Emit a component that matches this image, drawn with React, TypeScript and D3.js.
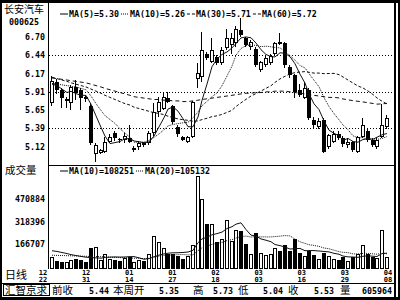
import React from "react";
import * as d3 from "d3";

// ---------- data ----------
const opens = [5.75,6.05,5.94,5.79,5.75,5.98,5.94,5.84,5.70,5.02,5.03,5.05,5.19,5.32,5.23,5.22,5.25,5.08,5.12,5.17,5.17,5.32,5.62,5.67,5.82,5.70,5.41,5.26,5.19,5.26,6.10,6.12,6.46,6.34,6.41,6.32,6.54,6.58,6.61,6.80,6.68,6.56,6.52,6.22,6.30,6.32,6.46,6.62,6.61,6.27,6.15,5.94,5.82,5.94,5.50,5.40,5.50,5.12,5.19,5.31,5.25,5.15,5.19,5.05,5.26,5.35,5.22,5.12,5.26,5.40];
const highs = [6.14,6.10,5.96,5.84,6.01,6.08,5.96,5.86,5.75,5.18,5.09,5.26,5.30,5.34,5.25,5.32,5.43,5.13,5.20,5.19,5.35,5.75,5.84,5.91,5.91,5.72,5.43,5.27,5.28,5.78,6.32,6.77,6.49,6.68,6.44,6.55,6.82,6.75,6.85,6.97,6.70,6.66,6.56,6.36,6.42,6.45,6.63,6.75,6.63,6.29,6.16,6.02,6.05,5.96,5.55,5.53,5.53,5.31,5.34,5.34,5.28,5.24,5.21,5.28,5.53,5.39,5.24,5.26,5.73,5.57];
const lows = [5.70,5.88,5.68,5.68,5.65,5.79,5.65,5.76,5.14,4.90,5.01,5.03,5.18,5.20,5.18,5.17,5.18,5.05,5.08,5.11,5.15,5.27,5.55,5.65,5.75,5.45,5.26,5.20,5.17,5.25,5.96,6.05,6.37,6.33,6.30,6.30,6.51,6.46,6.55,6.70,6.55,6.51,6.27,6.20,6.27,6.30,6.44,6.58,6.26,6.11,5.82,5.84,5.80,5.50,5.39,5.37,5.03,5.09,5.17,5.22,5.12,5.10,5.05,5.03,5.24,5.19,5.12,5.09,5.24,5.37];
const closes = [6.06,5.93,5.82,5.80,5.98,5.89,5.82,5.80,5.17,5.14,5.07,5.19,5.26,5.24,5.22,5.27,5.19,5.10,5.18,5.15,5.32,5.62,5.76,5.84,5.77,5.48,5.31,5.22,5.26,5.77,6.18,6.51,6.39,6.51,6.32,6.51,6.69,6.68,6.82,6.73,6.58,6.63,6.30,6.34,6.39,6.42,6.61,6.60,6.30,6.15,5.91,5.86,5.96,5.53,5.43,5.49,5.05,5.29,5.31,5.25,5.16,5.19,5.07,5.26,5.44,5.22,5.15,5.22,5.43,5.53];
const volumes = [80000,55000,50000,52000,65000,70000,60000,50000,140000,151000,60000,106000,70000,65000,55000,75000,85000,50000,60000,55000,106000,226000,182000,146000,100000,100000,90000,70000,88000,166000,621000,470000,300000,304000,180000,200000,328000,190000,260000,255000,170000,100000,240000,110000,95000,100000,140000,120000,165000,120000,200000,110000,90000,120000,95000,70000,110000,90000,70000,60000,80000,55000,80000,100000,166000,100000,80000,75000,266000,84000];

// moving-average values at the left edge (window not yet full)
const ma5Lead = [6.02,6.00,5.95,5.90];
const ma10Lead = [6.03,6.02,6.01,6.00,5.99,5.98,5.96,5.94,5.85];
const ma30Lead = [6.12,6.10,6.08,6.06,6.04,6.02,6.00,5.98,5.95,5.92,5.89,5.86,5.83,5.80,5.77,5.74,5.72,5.69,5.67,5.65,5.63,5.61,5.60,5.58,5.56,5.54,5.52,5.51,5.50];
const ma60Lead = [6.11,6.10,6.09,6.08,6.07,6.06,6.05,6.04,6.02,6.00,5.98,5.96,5.94,5.92,5.90,5.88,5.86,5.84,5.83,5.82,5.81,5.80,5.80,5.79,5.79,5.78,5.78,5.77,5.77,5.78,5.79,5.80,5.81,5.82,5.83,5.84,5.85,5.86,5.87,5.88,5.89,5.89,5.90,5.90,5.91,5.91,5.92,5.92,5.92,5.91,5.90,5.89,5.88,5.87,5.86,5.85,5.84,5.83,5.83];
const volMa10Lead = [125000,120000,113000,106000,99000,93000,87000,82000,79000];
const volMa20Lead = [95000,94000,93000,92000,91000,90000,89000,88000,87000,86000,85000,84000,82000,80000,79000,78000,77000,75000,74000];

const priceTicks = [6.70,6.44,6.17,5.91,5.65,5.39,5.12];
const priceGrid = [6.44,5.91,5.39];
const volTicks = [470884,318396,166707];
const dateMonths = ["12","12","01","01","02","03","03","03","04"];
const dateDays = ["22","31","14","27","18","03","16","29","08"];
const priceLegend = ["MA(5)=5.30","MA(10)=5.26","MA(30)=5.71","MA(60)=5.72"];
const volLegend = ["MA(10)=108251","MA(20)=105132"];
const stockName = "长安汽车";
const stockCode = "000625";
const footerLabels = ["前收","本周开","高","低","收","量"];
const footerValues = ["5.44","5.35","5.73","5.04","5.53","605964"];

// ---------- helpers ----------
function movingAverage(values: number[], n: number, lead: number[]): number[] {
  return values.map((_, i) =>
    i < n - 1 ? lead[i] : (d3.mean(values.slice(i - n + 1, i + 1)) as number)
  );
}

const MONO = "'DejaVu Sans Mono', monospace";
const CJK = "'Noto Sans CJK SC', sans-serif";
const FS = 8.3;
const CW = FS * 0.602;

export default function App() {
  const n = closes.length;
  const L = 48, R = 394, TOP = 3, MID = 165, BOT = 269;
  const x = d3.scaleBand<number>().domain(d3.range(n)).range([49.5, 389.5]);
  const cx = (i: number) => Math.round((x(i) as number) + x.bandwidth() / 2);
  const yP = d3.scaleLinear().domain([5.39, 6.44]).range([128, 55]);
  const yV = d3.scaleLinear().domain([0, 700000]).range([269.5, 164.3]);
  const snap = (v: number) => Math.round(v) + 0.5;

  const priceMAs = [
    { data: movingAverage(closes, 5, ma5Lead), dash: "" },
    { data: movingAverage(closes, 10, ma10Lead), dash: "1,1" },
    { data: movingAverage(closes, 30, ma30Lead), dash: "3,2" },
    { data: movingAverage(closes, 60, ma60Lead), dash: "4,3" },
  ];
  const volMAs = [
    { data: movingAverage(volumes, 10, volMa10Lead), dash: "" },
    { data: movingAverage(volumes, 20, volMa20Lead), dash: "1,1" },
  ];
  const pLine = d3.line<number>().x((_, i) => cx(i)).y((d) => yP(d));
  const vLine = d3.line<number>().x((_, i) => cx(i)).y((d) => yV(d));
  const dateX = d3.scalePoint<number>().domain(d3.range(dateDays.length)).range([43, 388]);

  const legendItems = (labels: string[], dashes: string[], y: number) => {
    let pos = 60;
    return labels.map((lab, k) => {
      const start = pos;
      pos = start + 9 + lab.length * CW + 2;
      return (
        <g key={k}>
          <line x1={start} x2={start + 8} y1={y - 3} y2={y - 3} stroke="#000" strokeDasharray={dashes[k]} />
          <text x={start + 9} y={y} fontFamily={MONO} fontWeight="bold" fontSize={FS}>{lab}</text>
        </g>
      );
    });
  };

  const footerLabelX = [52, 113, 193, 238, 288, 340];
  const footerValueX = [109, 179, 233, 283, 334, 392];

  return (
    <svg width={400} height={300} style={{ position: "fixed", left: 0, top: 0, background: "#fff" }}>
      <defs>
        <clipPath id="pclip"><rect x={L + 1} y={TOP} width={R - L - 1} height={MID - TOP} /></clipPath>
        <clipPath id="vclip"><rect x={L + 1} y={MID + 1} width={R - L - 1} height={BOT - MID} /></clipPath>
      </defs>
      <rect x={0} y={0} width={400} height={300} fill="#fff" />

      {priceGrid.map((p) => (
        <line key={p} x1={L + 1} x2={R} y1={snap(yP(p))} y2={snap(yP(p))} stroke="#000" strokeDasharray="1,2" shapeRendering="crispEdges" />
      ))}

      <g clipPath="url(#pclip)" shapeRendering="crispEdges">
        {closes.map((c, i) => {
          const o = opens[i];
          const up = c >= o;
          const X = cx(i);
          const top = Math.round(yP(Math.max(o, c)));
          const bot = Math.max(Math.round(yP(Math.min(o, c))), top + 1);
          return (
            <g key={i}>
              <line x1={X - 0.5} x2={X - 0.5} y1={Math.round(yP(highs[i]))} y2={Math.round(yP(lows[i]))} stroke="#000" />
              {up ? (
                <rect x={X - 1.5} y={top + 0.5} width={3} height={Math.max(bot - top - 1, 1)} fill="#fff" stroke="#000" />
              ) : (
                <rect x={X - 2} y={top} width={4} height={bot - top} fill="#000" />
              )}
            </g>
          );
        })}
      </g>
      <g clipPath="url(#pclip)">
        {priceMAs.map((m, k) => (
          <path key={k} d={pLine(m.data) as string} fill="none" stroke="#111" strokeWidth={1} strokeDasharray={m.dash} />
        ))}
      </g>

      <g clipPath="url(#vclip)" shapeRendering="crispEdges">
        {volumes.map((v, i) => {
          const up = closes[i] >= opens[i];
          const X = cx(i);
          const top = Math.round(yV(v));
          return up ? (
            <rect key={i} x={X - 1.5} y={top + 0.5} width={3} height={BOT - top - 1} fill="#fff" stroke="#000" />
          ) : (
            <rect key={i} x={X - 2} y={top} width={4} height={BOT - top} fill="#000" />
          );
        })}
      </g>
      <g clipPath="url(#vclip)">
        {volMAs.map((m, k) => (
          <path key={k} d={vLine(m.data) as string} fill="none" stroke="#111" strokeWidth={1} strokeDasharray={m.dash} />
        ))}
      </g>

      {legendItems(priceLegend, ["", "1,1", "3,2", "3,2"], 17)}
      {legendItems(volLegend, ["", "1,1"], 174)}

      <text x={4} y={12.5} fontFamily={CJK} fontSize={10}>{stockName}</text>
      <text x={9} y={25} fontFamily={MONO} fontWeight="bold" fontSize={FS}>{stockCode}</text>
      {priceTicks.map((p) => (
        <text key={p} x={45} y={yP(p) + 3} textAnchor="end" fontFamily={MONO} fontWeight="bold" fontSize={FS}>{p.toFixed(2)}</text>
      ))}
      <text x={5} y={174} fontFamily={CJK} fontSize={10.5}>成交量</text>
      {volTicks.map((v) => (
        <text key={v} x={45} y={yV(v) + 3} textAnchor="end" fontFamily={MONO} fontWeight="bold" fontSize={FS}>{v}</text>
      ))}
      <text x={5} y={279} fontFamily={CJK} fontSize={11}>日线</text>

      {dateDays.map((d, k) => (
        <g key={k}>
          <text x={dateX(k)} y={275} textAnchor="middle" fontFamily={MONO} fontWeight="bold" fontSize={7}>{dateMonths[k]}</text>
          <text x={dateX(k)} y={281.5} textAnchor="middle" fontFamily={MONO} fontWeight="bold" fontSize={7}>{d}</text>
        </g>
      ))}

      <g shapeRendering="crispEdges">
        <line x1={L + 0.5} x2={L + 0.5} y1={TOP} y2={BOT} stroke="#000" />
        <line x1={L} x2={R} y1={MID + 0.5} y2={MID + 0.5} stroke="#000" />
        <line x1={2} x2={R} y1={283.5} y2={283.5} stroke="#000" />
        <rect x={0} y={0} width={400} height={3} fill="#000" />
        <rect x={0} y={0} width={2} height={300} fill="#000" />
        <rect x={0} y={297} width={400} height={3} fill="#000" />
        <rect x={R} y={0} width={2} height={300} fill="#000" />
        <rect x={398} y={0} width={2} height={300} fill="#000" />
        <rect x={3.5} y={284.5} width={46} height={11} fill="none" stroke="#000" />
      </g>

      <text x={5} y={294} fontFamily={CJK} fontSize={10.5}>汇智京求</text>
      {footerLabels.map((lab, k) => (
        <text key={lab} x={footerLabelX[k]} y={294} fontFamily={CJK} fontSize={10.5}>{lab}</text>
      ))}
      {footerValues.map((v, k) => (
        <text key={k} x={footerValueX[k]} y={293.5} textAnchor="end" fontFamily={MONO} fontWeight="bold" fontSize={FS}>{v}</text>
      ))}
    </svg>
  );
}
